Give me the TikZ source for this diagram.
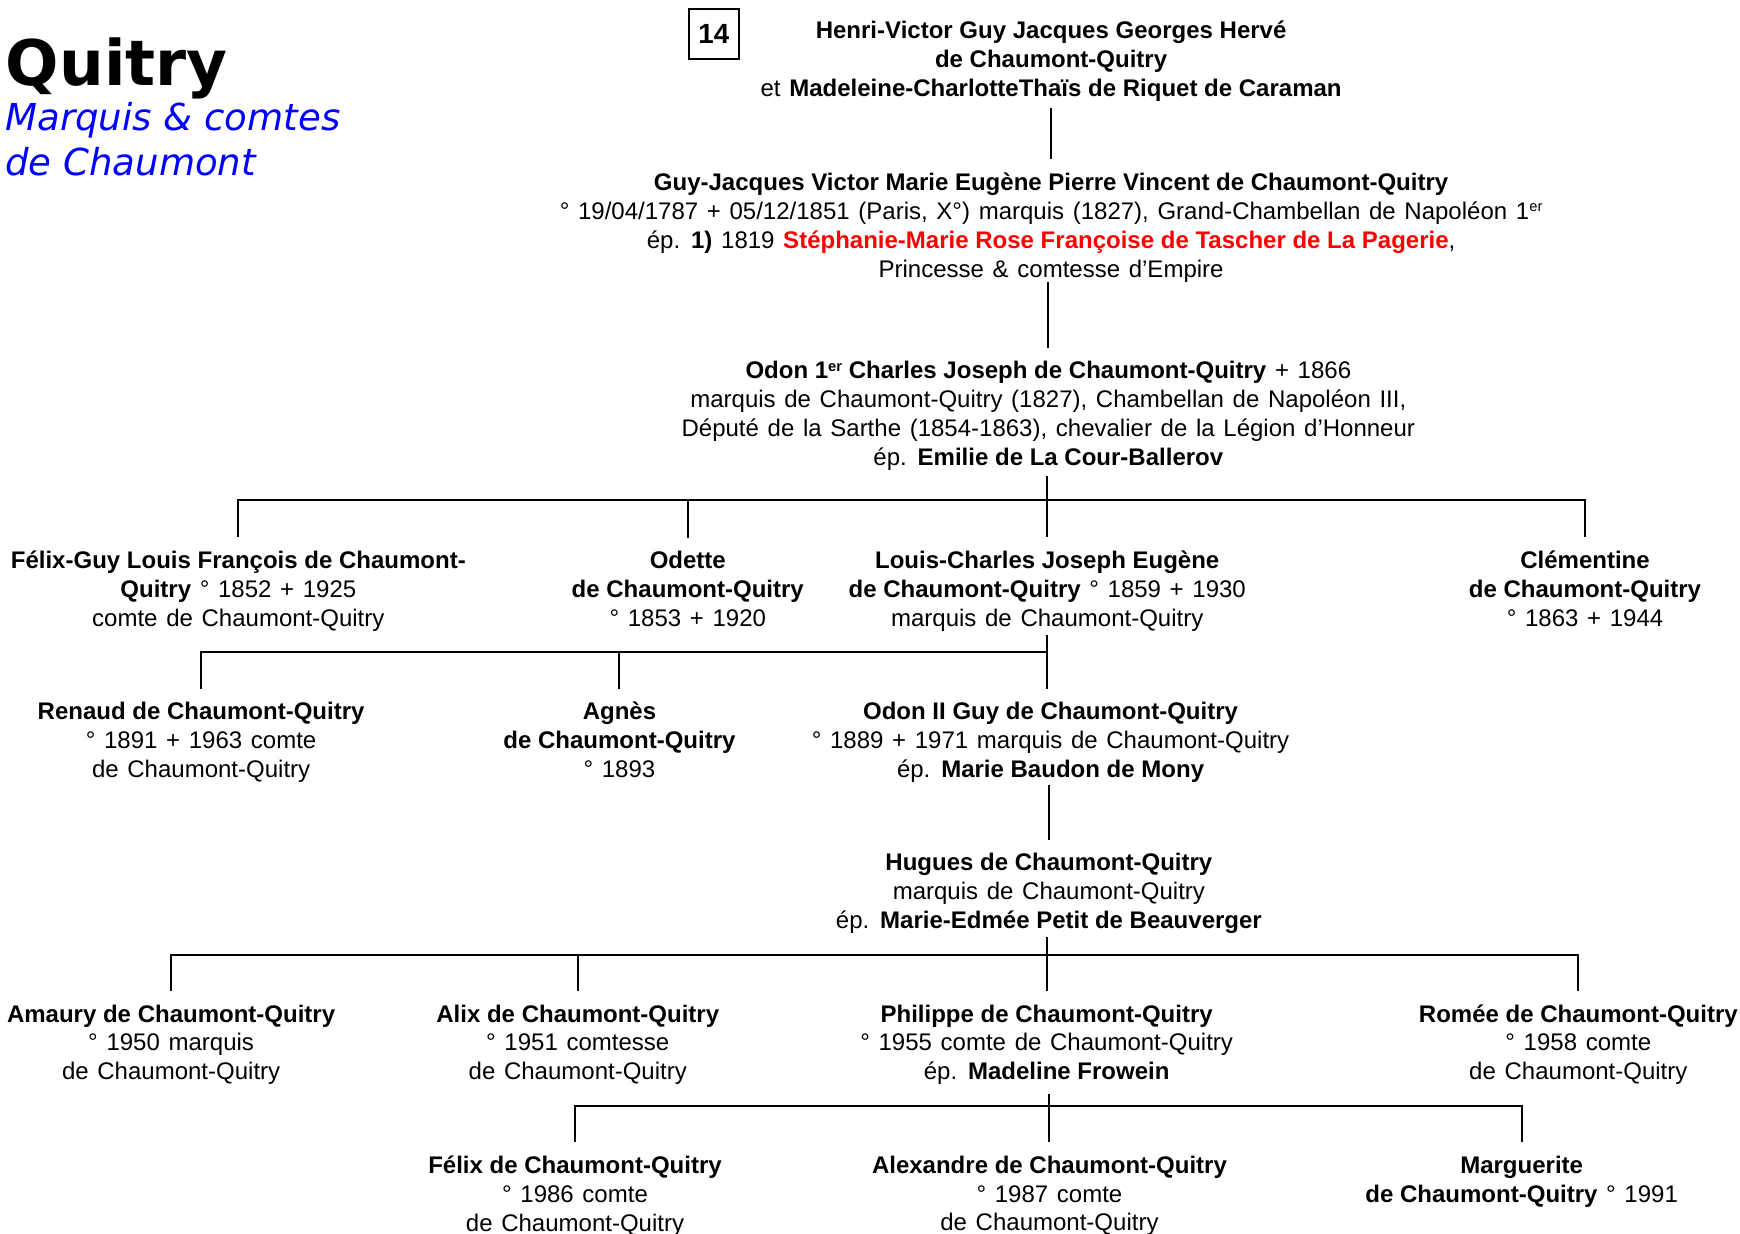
\documentclass[tikz,border=0pt]{standalone}
\usepackage{fontspec}
\setmainfont{Liberation Sans}[UprightFeatures={WordSpace=1.3}]
\newfontfamily\titlefont{DejaVu Sans}
\usetikzlibrary{positioning, calc}
\newcommand\ordsup[1]{\raisebox{0.6ex}{\fontsize{7.5}{7.5}\selectfont #1}}

\begin{document}
\begin{tikzpicture}[x=0.02cm, y=-0.02cm,
  person/.style={align=center, inner sep=0pt, font=\fontsize{12.3}{14.8}\selectfont},
  link/.style={line width=1pt, shorten >=6.8pt},
  stem/.style={line width=1pt, shorten <=#1, shorten >=6.8pt}]
  \useasboundingbox (0,0) rectangle (1566,1110);

  % Title
  \node[anchor=base west, inner sep=0pt, font=\titlefont\bfseries\fontsize{32.2}{32.2}\selectfont] (title) at (5,76.5) {Quitry};
  \node[anchor=base west, inner sep=0pt, align=left, text=blue, font=\titlefont\itshape\fontsize{19}{23}\selectfont] (subtitle) at (4.5,157.5) {Marquis \& comtes\\de Chaumont};

  % Page number
  \node[draw, line width=0.75pt, minimum width=0.9cm, minimum height=0.9cm, inner sep=0pt, font=\bfseries\fontsize{14.2}{14.2}\selectfont] (num) at (642.5,30.5) {14};

  % Generation 0 and 1
  \node[person] (henri) at (946,55.2) {\textbf{Henri-Victor Guy Jacques Georges Hervé}\\\textbf{de Chaumont-Quitry}\\et \textbf{Madeleine-CharlotteThaïs de Riquet de Caraman}};
  \node[person] (guy) at (946,204.7) {\textbf{Guy-Jacques Victor Marie Eugène Pierre Vincent de Chaumont-Quitry}\\° 19/04/1787 + 05/12/1851 (Paris, X°) marquis (1827), Grand-Chambellan de Napoléon 1\ordsup{er}\\ép. \textbf{1)} 1819 \textcolor{red}{\textbf{Stéphanie-Marie Rose Françoise de Tascher de La Pagerie}},\\Princesse \& comtesse d’Empire};
  \node[person] (odon1) at (943.5,374.2) {\textbf{Odon 1\ordsup{er} Charles Joseph de Chaumont-Quitry} + 1866\\marquis de Chaumont-Quitry (1827), Chambellan de Napoléon III,\\Député de la Sarthe (1854-1863), chevalier de la Légion d’Honneur\\ép. \textbf{Emilie de La Cour-Ballerov}};

  % Children of Odon 1er
  \node[person] (felixguy) at (214.5,532.2) {\textbf{Félix-Guy Louis François de Chaumont-}\\\textbf{Quitry} ° 1852 + 1925\\comte de Chaumont-Quitry};
  \node[person] (odette) at (619,530) {\textbf{Odette}\\\textbf{de Chaumont-Quitry}\\° 1853 + 1920};
  \node[person] (louis) at (942.5,532.2) {\textbf{Louis-Charles Joseph Eugène}\\\textbf{de Chaumont-Quitry} ° 1859 + 1930\\marquis de Chaumont-Quitry};
  \node[person] (clementine) at (1426.5,530) {\textbf{Clémentine}\\\textbf{de Chaumont-Quitry}\\° 1863 + 1944};

  % Children of Louis-Charles
  \node[person] (renaud) at (181,668.2) {\textbf{Renaud de Chaumont-Quitry}\\° 1891 + 1963 comte\\de Chaumont-Quitry};
  \node[person] (agnes) at (557.5,666) {\textbf{Agnès}\\\textbf{de Chaumont-Quitry}\\° 1893};
  \node[person] (odon2) at (945.5,668.2) {\textbf{Odon II Guy de Chaumont-Quitry}\\° 1889 + 1971 marquis de Chaumont-Quitry\\ép. \textbf{Marie Baudon de Mony}};

  \node[person] (hugues) at (944,804.2) {\textbf{Hugues de Chaumont-Quitry}\\marquis de Chaumont-Quitry\\ép. \textbf{Marie-Edmée Petit de Beauverger}};

  % Children of Hugues
  \node[person] (amaury) at (154,940.2) {\textbf{Amaury de Chaumont-Quitry}\\° 1950 marquis\\de Chaumont-Quitry};
  \node[person] (alix) at (520,940.2) {\textbf{Alix de Chaumont-Quitry}\\° 1951 comtesse\\de Chaumont-Quitry};
  \node[person] (philippe) at (942,940.2) {\textbf{Philippe de Chaumont-Quitry}\\° 1955 comte de Chaumont-Quitry\\ép. \textbf{Madeline Frowein}};
  \node[person] (romee) at (1420.5,940.2) {\textbf{Romée de Chaumont-Quitry}\\° 1958 comte\\de Chaumont-Quitry};

  % Children of Philippe
  \node[person] (felix) at (517.5,1076.2) {\textbf{Félix de Chaumont-Quitry}\\° 1986 comte\\de Chaumont-Quitry};
  \node[person] (alexandre) at (944.5,1076.2) {\textbf{Alexandre de Chaumont-Quitry}\\° 1987 comte\\de Chaumont-Quitry};
  \node[person] (marguerite) at (1369.5,1063.2) {\textbf{Marguerite}\\\textbf{de Chaumont-Quitry} ° 1991};

  % Bar levels
  \coordinate (fam1) at (0,450);
  \coordinate (fam2) at (0,587);
  \coordinate (fam3) at (0,859.5);
  \coordinate (fam4) at (0,995.5);

  % Descent lines
  \draw[stem=3.2pt] (guy.north |- henri.south) -- (guy.north);
  \draw[stem=0pt] (odon1.north |- guy.south) -- (odon1.north);
  \draw[stem=2.7pt] (louis.north |- odon1.south) -- (louis.north);
  \draw[link, shorten <=6.8pt] (felixguy.north) -- (felixguy.north |- fam1) -- (clementine.north |- fam1) -- (clementine.north);
  \draw[link] (odette.north |- fam1) -- (odette.north);

  \draw[stem=1.5pt] (louis.south) -- (louis.south |- odon2.north);
  \draw[link] (louis.south |- fam2) -- (renaud.north |- fam2) -- (renaud.north);
  \draw[link] (agnes.north |- fam2) -- (agnes.north);

  \draw[stem=1.3pt] (hugues.north |- odon2.south) -- (hugues.north);

  \draw[stem=1.5pt] (philippe.north |- hugues.south) -- (philippe.north);
  \draw[link, shorten <=6.8pt] (amaury.north) -- (amaury.north |- fam3) -- (romee.north |- fam3) -- (romee.north);
  \draw[link] (alix.north |- fam3) -- (alix.north);

  \draw[stem=4.4pt] (alexandre.north |- philippe.south) -- (alexandre.north);
  \draw[link, shorten <=6.8pt] (felix.north) -- (felix.north |- fam4) -- (marguerite.north |- fam4) -- (marguerite.north);
\end{tikzpicture}
\end{document}
